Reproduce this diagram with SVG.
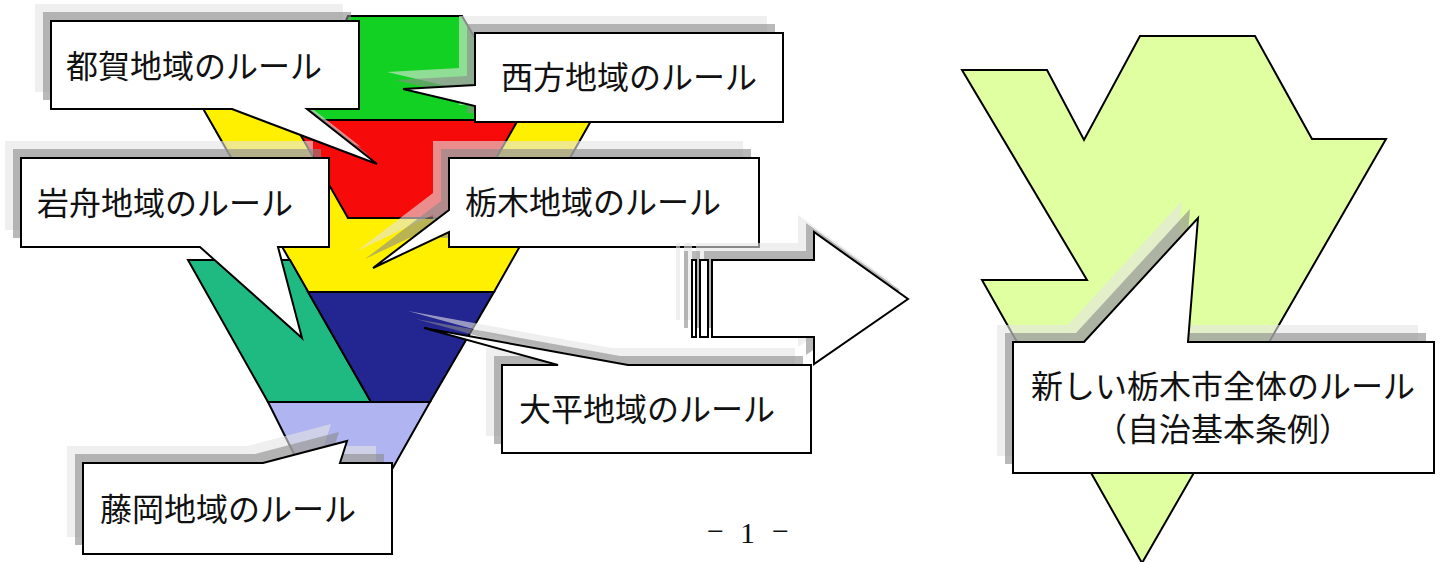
<svg xmlns="http://www.w3.org/2000/svg" xmlns:xlink="http://www.w3.org/1999/xlink" width="1442" height="562" viewBox="0 0 1442 562">
<style>
.f{stroke:#000;stroke-width:2;stroke-linejoin:miter}
.box{fill:#fff;stroke:#000;stroke-width:2}
.sl{fill:#e4e4e4;fill-opacity:0.6;stroke:none}
.sd{fill:#8b8b8b;fill-opacity:0.6;stroke:none}
.t{font-family:"Noto Sans CJK JP","Noto Sans CJK SC",sans-serif;font-size:32px;fill:#111}
.pg{font-family:"Liberation Serif",serif;font-size:30px;fill:#111}
</style>
<defs>
<path id="c-tsuga" d="M51,21 H359 V109 H307 L377,164 L232,109 H51 Z"/>
<path id="c-nishikata" d="M475,33 H783 V122 H475 V106 L403,89 L475,85 Z"/>
<path id="c-tochigi" d="M449,158 H759 V247 H449 V232 L373,268 L449,210 Z"/>
<path id="c-iwafune" d="M21,158 H329 V247 H278 L302,338 L200,247 H21 Z"/>
<path id="c-ohira" d="M502,365 H558 L424,328 L628,365 H811 V453 H502 Z"/>
<path id="c-fujioka" d="M83,463 H263 L347,441 L340,463 H392 V554 H83 Z"/>
<path id="c-new" d="M1013,342 H1084 L1198,218 L1188,342 H1434 V473 H1013 Z"/>
<g id="c-arrow">
<rect x="692" y="260" width="4" height="77"/>
<rect x="700" y="260" width="8" height="77"/>
<path d="M712,260 H814 V232 L908,299 L814,364 V337 H712 Z"/>
</g>
</defs>

<g id="funnel">
<polygon class="f" fill="#fff000" points="201,105 600,105 494,292 308,292"/>
<polygon class="f" fill="#12d122" points="348,16 462,16 524,120 300,120"/>
<polygon class="f" fill="#f70a0a" points="292,120 518,120 462,218 348,218"/>
<polygon class="f" fill="#1fba82" points="188,260 290,260 371,402 268,402"/>
<polygon class="f" fill="#232590" points="308,292 494,292 430,402 371,402"/>
<polygon class="f" fill="#b0b4f0" points="268,402 430,402 386,480 307,480"/>
</g>

<g id="whole-shape">
<polygon class="f" fill="#dfffa0" points="962,70 1047,70 1084,140 1140,36 1255,36 1312,139 1386,139 1142,563 982,280 1087,280"/>
</g>

<g id="tsuga">
<use xlink:href="#c-tsuga" class="sl" transform="translate(-16,-17)"/>
<use xlink:href="#c-tsuga" class="sd" transform="translate(-8,-9)"/>
<use xlink:href="#c-tsuga" class="box"/>
<text class="t" x="66" y="78">都賀地域のルール</text>
</g>

<g id="nishikata">
<use xlink:href="#c-nishikata" class="sl" transform="translate(-16,-17)"/>
<use xlink:href="#c-nishikata" class="sd" transform="translate(-8,-9)"/>
<use xlink:href="#c-nishikata" class="box"/>
<text class="t" x="501" y="89">西方地域のルール</text>
</g>

<g id="tochigi">
<use xlink:href="#c-tochigi" class="sl" transform="translate(-16,-17)"/>
<use xlink:href="#c-tochigi" class="sd" transform="translate(-8,-9)"/>
<use xlink:href="#c-tochigi" class="box"/>
<text class="t" x="465" y="214">栃木地域のルール</text>
</g>

<g id="iwafune">
<use xlink:href="#c-iwafune" class="sl" transform="translate(-16,-17)"/>
<use xlink:href="#c-iwafune" class="sd" transform="translate(-8,-9)"/>
<use xlink:href="#c-iwafune" class="box"/>
<text class="t" x="37" y="215">岩舟地域のルール</text>
</g>

<g id="ohira">
<use xlink:href="#c-ohira" class="sl" transform="translate(-16,-17)"/>
<use xlink:href="#c-ohira" class="sd" transform="translate(-8,-9)"/>
<use xlink:href="#c-ohira" class="box"/>
<text class="t" x="519" y="421">大平地域のルール</text>
</g>

<g id="fujioka">
<use xlink:href="#c-fujioka" class="sl" transform="translate(-16,-17)"/>
<use xlink:href="#c-fujioka" class="sd" transform="translate(-8,-9)"/>
<use xlink:href="#c-fujioka" class="box"/>
<text class="t" x="100" y="521">藤岡地域のルール</text>
</g>

<g id="connectors">
<use xlink:href="#c-arrow" class="sl" transform="translate(-16,-17)"/>
<use xlink:href="#c-arrow" class="sd" transform="translate(-8,-9)"/>
<use xlink:href="#c-arrow" class="box"/>
</g>

<g id="new-rule">
<use xlink:href="#c-new" class="sl" transform="translate(-16,-17)"/>
<use xlink:href="#c-new" class="sd" transform="translate(-8,-9)"/>
<use xlink:href="#c-new" class="box"/>
<text class="t" x="1223" y="398" text-anchor="middle">新しい栃木市全体のルール</text>
<text class="t" x="1223" y="441" text-anchor="middle">（自治基本条例）</text>
</g>

<g id="page-number">
<text class="pg"><tspan x="707" y="541">−</tspan><tspan x="740" y="543">1</tspan><tspan x="772" y="541">−</tspan></text>
</g>
</svg>
